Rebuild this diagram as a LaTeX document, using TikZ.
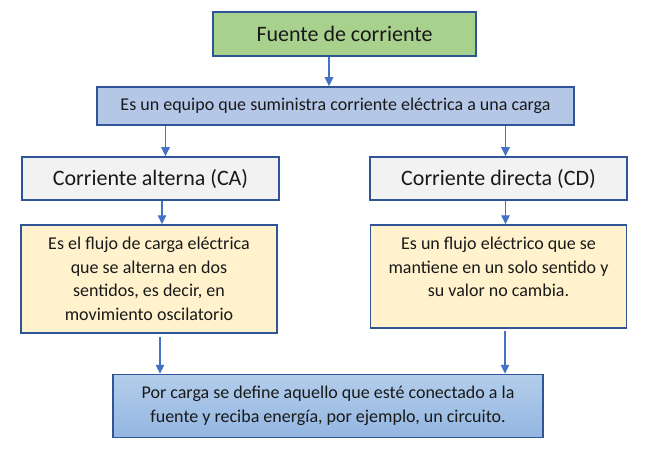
\documentclass[tikz,border=0pt]{standalone}
\usepackage{fontspec}
\setmainfont{Carlito}
\usetikzlibrary{arrows.meta}
\definecolor{bordc}{HTML}{2F5597}
\definecolor{arrc}{HTML}{4472C4}
\definecolor{greenf}{HTML}{A9D18E}
\definecolor{bluef}{HTML}{B4C7E7}
\definecolor{grayf}{HTML}{F2F2F2}
\definecolor{yelf}{HTML}{FFF2CC}
\definecolor{btop}{HTML}{B3CDEA}
\definecolor{bbot}{HTML}{93B6E2}
\tikzset{
  boxbase/.style={draw=bordc, line width=1.5pt, inner sep=0pt, align=center, text=black!90},
  arr/.style={draw=arrc, line width=1.1pt, -{Triangle[width=8.5pt,length=9pt]}},
}
\begin{document}
\begin{tikzpicture}[x=1pt,y=-1pt]
\useasboundingbox (0,0) rectangle (658,457);
\node[boxbase, fill=greenf, minimum width=263pt, minimum height=44pt, font=\fontsize{22}{26}\selectfont] (top) at (344.5,34) {Fuente de corriente};
\node[boxbase, fill=bluef, minimum width=477pt, minimum height=38pt, font=\fontsize{18}{22}\selectfont] (blue) at (335.5,106) {Es un equipo que suministra corriente eléctrica a una carga};
\node[boxbase, fill=grayf, minimum width=257pt, minimum height=43pt, font=\fontsize{22}{26}\selectfont] (grayL) at (150.5,178.5) {Corriente alterna (CA)};
\node[boxbase, fill=grayf, minimum width=257pt, minimum height=43pt, font=\fontsize{22}{26}\selectfont] (grayR) at (498.5,178.5) {Corriente directa (CD)};
\node[boxbase, fill=yelf, minimum width=256pt, minimum height=108pt, font=\fontsize{18}{23.4}\selectfont] (yelL) at (149,279)
  {\parbox[c][83pt][t]{250pt}{\centering Es el flujo de carga eléctrica\\que se alterna en dos\\sentidos, es decir, en\\movimiento oscilatorio}};
\node[boxbase, fill=yelf, minimum width=256pt, minimum height=103pt, font=\fontsize{18}{23.4}\selectfont] (yelR) at (498.5,276.5)
  {\parbox[c][78pt][t]{250pt}{\centering Es un flujo eléctrico que se\\mantiene en un solo sentido y\\su valor no cambia.}};
\node[boxbase, top color=btop, bottom color=bbot, minimum width=430pt, minimum height=63pt, font=\fontsize{18}{23.5}\selectfont] (bot) at (328,406)
  {Por carga se define aquello que esté conectado a la\\fuente y reciba energía, por ejemplo, un circuito.};
\path ([xshift=-6.5pt]blue.north) coordinate (a1)
      (grayL.north -| 165.5,0) coordinate (a2)
      (grayR.north -| 505.5,0) coordinate (a3)
      (yelL.north -| 162,0) coordinate (a4)
      (yelR.north -| 505.5,0) coordinate (a5)
      (bot.north -| 160,0) coordinate (a6)
      (bot.north -| 505,0) coordinate (a7);
\draw[arr] (top.south -| a1) -- (a1);
\draw[arr] (blue.south -| a2) -- (a2);
\draw[arr] (blue.south -| a3) -- (a3);
\draw[arr] (grayL.south -| a4) -- (a4);
\draw[arr] (grayR.south -| a5) -- (a5);
\draw[arr] ([yshift=-3pt]yelL.south -| a6) -- (a6);
\draw[arr] ([yshift=-2pt]yelR.south -| a7) -- (a7);
\end{tikzpicture}
\end{document}
